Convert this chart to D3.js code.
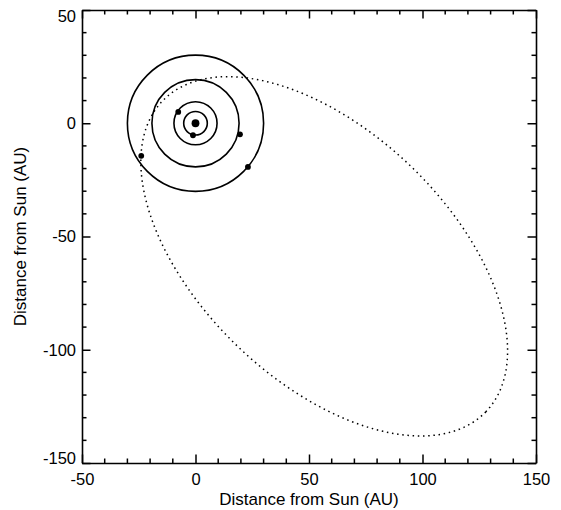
<!DOCTYPE html>
<html>
<head>
<meta charset="utf-8">
<script src="https://cdn.jsdelivr.net/npm/d3@7"></script>
<style>
    body { margin: 0; background: #fff; }
    text { font-family: "Liberation Sans", Arial, sans-serif; fill: #000; }
</style>
</head>
<body>
<div id="graph"></div>
<script>

// circular orbits (AU) and planet positions
var planetNames = ["Jupiter", "Saturn", "Uranus", "Neptune"];
var orbitRadius = [5.2, 9.5, 19.2, 30.0];
var planetX = [-1.1, -7.6, 19.6, 23.1];
var planetY = [-5.3, 5.0, -4.9, -19.3];

// eccentric orbit (dotted ellipse)
var ellipseCenter = [56.7, -58.75];   // AU
var ellipseAxes = [98.9, 55.1];       // semi-major, semi-minor, AU
var ellipseAngle = -44;               // major axis, degrees
var objectX = [-23.9];
var objectY = [-14.4];

var xTicks = [-50, 0, 50, 100, 150];
var yTicks = [-150, -100, -50, 0, 50];
var minorStep = 10;

function drawGraph() {
    var margin = { top: 10, right: 25, bottom: 47, left: 82 },
        width = 561 - margin.left - margin.right,
        height = 510 - margin.top - margin.bottom;

    var svG = d3.select("#graph")
        .append("svg")
        .attr("width", 561)
        .attr("height", 510)
        .append("g")
        .attr("transform", "translate(" + margin.left + "," + margin.top + ")");

    var x = d3.scaleLinear().domain([-50, 150]).range([0, width]);
    var y = d3.scaleLinear().domain([-150, 50]).range([height, 0]);

    var minorX = d3.range(-50, 150.1, minorStep).filter(v => xTicks.indexOf(v) < 0);
    var minorY = d3.range(-150, 50.1, minorStep).filter(v => yTicks.indexOf(v) < 0);

    // major ticks, pointing inward, labels on bottom and left only
    var axes = [
        [d3.axisBottom(x).tickValues(xTicks).tickPadding(10.6), "translate(0," + height + ")", "xlab"],
        [d3.axisTop(x).tickValues(xTicks), "translate(0,0)", null],
        [d3.axisLeft(y).tickValues(yTicks).tickPadding(6), "translate(0,0)", "ylab"],
        [d3.axisRight(y).tickValues(yTicks), "translate(" + width + ",0)", null]
    ];
    axes.forEach(function (a) {
        var axis = a[0].tickSizeInner(-8.5).tickSizeOuter(0)
            .tickFormat(a[2] ? (d => String(d)) : "");
        var g = svG.append("g").attr("transform", a[1]).call(axis);
        g.selectAll("line").attr("stroke", "#000").attr("stroke-width", 1.5);
        g.select(".domain").attr("stroke", "#000").attr("stroke-width", 1.6);
        g.selectAll("text").attr("font-size", 16.5).attr("font-family", "Liberation Sans, Arial, sans-serif");
        if (a[2]) g.attr("class", a[2]);
    });

    // end labels of the y axis sit a bit inside the frame
    svG.selectAll(".ylab .tick text")
        .filter(d => d === 50)
        .attr("y", 5.8);
    svG.selectAll(".ylab .tick text")
        .filter(d => d === -150)
        .attr("y", -5);

    // minor ticks
    function minor(vals, side) {
        var horiz = side == "bottom" || side == "top";
        var edge = { bottom: height, top: 0, left: 0, right: width }[side];
        var dir = (side == "bottom" || side == "right") ? -4.5 : 4.5;
        svG.append("g").selectAll("line")
            .data(vals)
            .enter()
            .append("line")
            .attr("x1", d => horiz ? x(d) : edge)
            .attr("x2", d => horiz ? x(d) : edge + dir)
            .attr("y1", d => horiz ? edge : y(d))
            .attr("y2", d => horiz ? edge + dir : y(d))
            .attr("stroke", "#000")
            .attr("stroke-width", 1.5);
    }
    minor(minorX, "bottom");
    minor(minorX, "top");
    minor(minorY, "left");
    minor(minorY, "right");

    // dotted ellipse
    var rot = ellipseAngle * Math.PI / 180;
    var ellipsePts = d3.range(0, 360, 1).map(function (deg) {
        var t = deg * Math.PI / 180;
        var u = ellipseAxes[0] * Math.cos(t), v = ellipseAxes[1] * Math.sin(t);
        return [ellipseCenter[0] + u * Math.cos(rot) - v * Math.sin(rot),
                ellipseCenter[1] + u * Math.sin(rot) + v * Math.cos(rot)];
    });
    svG.append("path")
        .datum(ellipsePts)
        .attr("d", d3.line().x(d => x(d[0])).y(d => y(d[1])).curve(d3.curveLinearClosed))
        .attr("fill", "none")
        .attr("stroke", "#000")
        .attr("stroke-width", 1.5)
        .attr("stroke-dasharray", "1.5,3.7");

    // planet orbits
    svG.selectAll("circle.orbit")
        .data(orbitRadius)
        .enter()
        .append("circle")
        .attr("class", "orbit")
        .attr("cx", x(0))
        .attr("cy", y(0))
        .attr("r", d => x(d) - x(0))
        .attr("fill", "none")
        .attr("stroke", "#000")
        .attr("stroke-width", 1.6);

    // sun
    svG.append("circle")
        .attr("cx", x(0))
        .attr("cy", y(0))
        .attr("r", 3.9)
        .attr("fill", "#000");

    // planets and object
    var bodies = planetX.map((v, i) => [v, planetY[i]])
        .concat(objectX.map((v, i) => [v, objectY[i]]));
    svG.selectAll("circle.body")
        .data(bodies)
        .enter()
        .append("circle")
        .attr("class", "body")
        .attr("cx", d => x(d[0]))
        .attr("cy", d => y(d[1]))
        .attr("r", 2.9)
        .attr("fill", "#000");

    // axis titles
    svG.append("text")
        .attr("x", width / 2)
        .attr("y", height + 42)
        .attr("text-anchor", "middle")
        .attr("font-size", 17)
        .text("Distance from Sun (AU)");
    svG.append("text")
        .attr("transform", "translate(" + (-56) + "," + (height / 2) + ") rotate(-90)")
        .attr("text-anchor", "middle")
        .attr("font-size", 17)
        .text("Distance from Sun (AU)");
}

drawGraph();

</script>
</body>
</html>
